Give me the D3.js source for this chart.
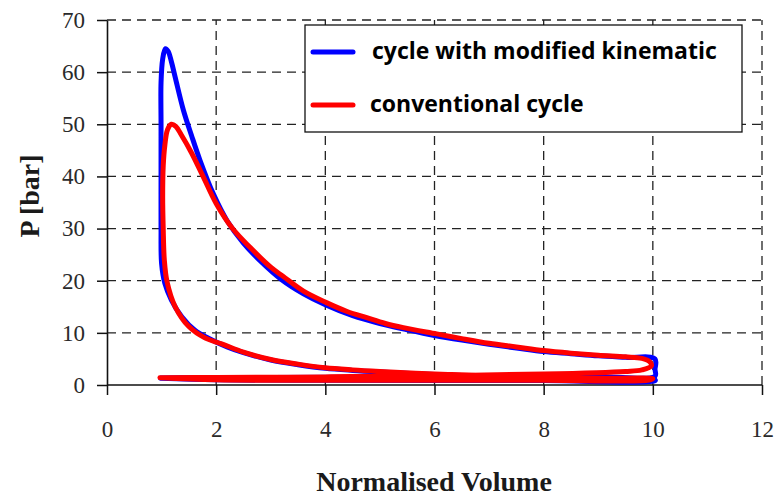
<!DOCTYPE html>
<html>
<head>
<meta charset="utf-8">
<script src="https://cdn.jsdelivr.net/npm/d3@7"></script>
<style>
  body { margin: 0; background: #fff; }
  svg { display: block; }
</style>
</head>
<body>
<script>
// axis ticks
const xTicks = [0, 2, 4, 6, 8, 10, 12];
const yTicks = [0, 10, 20, 30, 40, 50, 60, 70];

const seriesNames = ["cycle with modified kinematic", "conventional cycle"];
const seriesColors = ["#0000ff", "#ff0000"];

// [normalised volume, pressure bar], following the loop
const modifiedCycle = [
  [0.98, 1.3], [2, 1.0], [4, 0.9], [6, 0.85], [8, 0.85], [10.04, 0.8],
  [10.04, 1.0], [9, 1.2], [8, 1.4], [7, 1.65], [6, 2.0], [5, 2.5], [4.5, 2.8],
  [4, 3.2], [3.5, 3.9], [3, 4.8], [2.5, 6.2], [2.2, 7.3], [1.85, 9.0], [1.61, 10.5],
  [1.37, 13.1], [1.18, 16.3], [1.06, 19.5], [1.0, 23.3], [0.99, 30], [0.99, 40],
  [0.99, 50], [0.99, 58], [1.02, 62.5], [1.07, 64.5], [1.12, 64], [1.18, 62],
  [1.25, 59], [1.4, 52.7], [1.55, 47.8], [1.7, 43.2], [1.95, 36.6], [2.2, 31.5],
  [2.5, 27.2], [2.8, 23.9], [3.2, 20.2], [3.6, 17.5], [4.0, 15.4], [4.5, 13.3],
  [5.0, 11.8], [5.5, 10.6], [6.0, 9.5], [6.5, 8.6], [7.0, 7.8], [7.5, 7.1],
  [8.0, 6.4], [8.5, 6.0], [9.0, 5.6], [9.5, 5.3], [10.04, 5.0], [10.04, 3.0],
  [10.04, 1.7], [9, 1.6], [7, 1.55], [5, 1.5], [3, 1.45], [1.5, 1.4], [0.98, 1.35]
];

const conventionalCycle = [
  [0.97, 1.4], [2, 1.0], [4, 0.9], [6, 0.9], [8, 0.9], [9.9, 0.9],
  [10, 1.2], [9, 1.3], [8, 1.5], [7, 1.75], [6, 2.1], [5, 2.6], [4.5, 2.9],
  [4, 3.3], [3.5, 4.0], [3, 4.9], [2.5, 6.3], [2.1, 7.9], [1.8, 9.0], [1.5, 11.2],
  [1.25, 15], [1.1, 19.8], [1.05, 24], [1.03, 30], [1.02, 36], [1.03, 42],
  [1.06, 46], [1.11, 49], [1.18, 50], [1.26, 49.6], [1.36, 48], [1.55, 44.5],
  [1.76, 40], [2.0, 34.8], [2.3, 30], [2.62, 26.4], [3.0, 22.6], [3.23, 20.8],
  [3.6, 18], [4.02, 15.8], [4.4, 14.1], [4.76, 12.9], [5.1, 11.8], [5.43, 11.0],
  [6.04, 9.8], [6.5, 8.9], [7.0, 8.0], [7.5, 7.3], [8.0, 6.6], [8.5, 6.1],
  [9.0, 5.7], [9.5, 5.4], [9.8, 5.1], [9.95, 4.4], [9.97, 3.6], [9.8, 2.9],
  [9.5, 2.6], [8, 2.1], [6, 1.8], [4, 1.55], [2, 1.45], [0.97, 1.4]
];

const w = 781, h = 497;

const x = d3.scaleLinear().domain([0, 12]).range([107, 762]);
const y = d3.scaleLinear().domain([0, 70]).range([385, 20]);

const svg = d3.select("body").append("svg")
  .attr("width", w).attr("height", h);

// dashed grid
svg.append("g").selectAll("line")
  .data(yTicks.filter(d => d > 0)).enter().append("line")
  .attr("x1", x(0)).attr("x2", x(12))
  .attr("y1", d => y(d)).attr("y2", d => y(d))
  .attr("stroke", "#222").attr("stroke-width", 1.3)
  .attr("stroke-dasharray", "9,6");

svg.append("g").selectAll("line")
  .data(xTicks.filter(d => d > 0)).enter().append("line")
  .attr("x1", d => x(d)).attr("x2", d => x(d))
  .attr("y1", y(0)).attr("y2", y(70))
  .attr("stroke", "#222").attr("stroke-width", 1.3)
  .attr("stroke-dasharray", "9,6");

// axes
const xAxis = svg.append("g")
  .attr("transform", "translate(0," + y(0) + ")")
  .call(d3.axisBottom(x).tickValues(xTicks).tickSize(10).tickPadding(26).tickSizeOuter(0));

const yAxis = svg.append("g")
  .attr("transform", "translate(" + x(0) + ",0)")
  .call(d3.axisLeft(y).tickValues(yTicks).tickSize(10).tickPadding(12).tickSizeOuter(0));

[xAxis, yAxis].forEach(a => {
  a.select(".domain").attr("stroke", "#111").attr("stroke-width", 1.6);
  a.selectAll(".tick line").attr("stroke", "#111").attr("stroke-width", 1.5);
  a.selectAll("text")
    .attr("fill", "#2a2a2a")
    .style("font-family", "'Liberation Serif', 'Times New Roman', serif")
    .style("font-size", "23px");
});
xAxis.select(".domain").attr("d", "M" + x(0) + ",0H" + x(12));

// curves
let line = d3.line()
  .x(d => x(d[0]))
  .y(d => y(d[1]))
  .curve(d3.curveCatmullRom.alpha(0.5));

[modifiedCycle, conventionalCycle].forEach((data, i) => {
  svg.append("path")
    .datum(data)
    .attr("d", line)
    .attr("fill", "none")
    .attr("stroke", seriesColors[i])
    .attr("stroke-width", 5)
    .attr("stroke-linejoin", "round")
    .attr("stroke-linecap", "round");
});

// legend
const legend = svg.append("g");
legend.append("rect")
  .attr("x", 305).attr("y", 25).attr("width", 437).attr("height", 107)
  .attr("fill", "#fff").attr("stroke", "#111").attr("stroke-width", 1.3);

seriesNames.forEach((name, i) => {
  const ly = 52 + i * 53;
  legend.append("line")
    .attr("x1", 313).attr("x2", 353).attr("y1", ly).attr("y2", ly)
    .attr("stroke", seriesColors[i]).attr("stroke-width", 5)
    .attr("stroke-linecap", "round");
  legend.append("text")
    .attr("x", i === 0 ? 372 : 370).attr("y", ly + 7)
    .style("font-family", "'Open Sans', sans-serif")
    .style("font-weight", "bold")
    .style("font-size", "23px")
    .attr("fill", "#000")
    .text(name);
});

// axis titles
svg.append("text")
  .attr("x", 434).attr("y", 491)
  .attr("text-anchor", "middle")
  .style("font-family", "'Liberation Serif', 'Times New Roman', serif")
  .style("font-weight", "bold")
  .style("font-size", "28px")
  .attr("fill", "#1a1a1a")
  .text("Normalised Volume");

svg.append("text")
  .attr("transform", "translate(39,196) rotate(-90)")
  .attr("text-anchor", "middle")
  .style("font-family", "'Liberation Serif', 'Times New Roman', serif")
  .style("font-weight", "bold")
  .style("font-size", "28px")
  .attr("fill", "#1a1a1a")
  .text("P [bar]");
</script>
</body>
</html>
